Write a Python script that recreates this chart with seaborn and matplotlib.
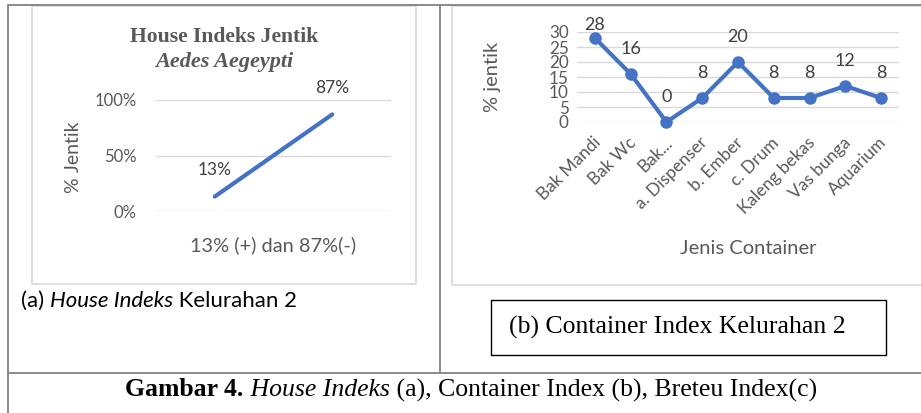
import matplotlib
matplotlib.use("Agg")
import matplotlib.pyplot as plt
import seaborn as sns
import pandas as pd
from matplotlib.patches import Rectangle
from matplotlib.lines import Line2D
from matplotlib.ticker import PercentFormatter
import matplotlib.transforms as mtrans

# ---- data ----
house_cats = ["(+)", "(-)"]
house_vals = [0.13, 0.87]
house_labels = ["13%", "87%"]

container_cats = ["Bak Mandi", "Bak Wc", "Bak...", "a. Dispenser", "b. Ember",
                  "c. Drum", "Kaleng bekas", "Vas bunga", "Aquarium"]
container_vals = [28, 16, 0, 8, 20, 8, 8, 12, 8]
container_yticks = [0, 5, 10, 15, 20, 25, 30]
house_yticks = [0.0, 0.5, 1.0]

sns.set_theme(style="white")
plt.rcParams["font.family"] = ["Lato", "DejaVu Sans"]

W, H = 921, 413
fig = plt.figure(figsize=(W / 100, H / 100), dpi=100)
fig.patch.set_facecolor("white")


def fx(x):
    return x / W


def fy(y):
    return 1 - y / H


def ax_rect(x0, y0, x1, y1):
    return [fx(x0), fy(y1), fx(x1) - fx(x0), fy(y0) - fy(y1)]


GRAY_TXT = "#595959"
LINE_BLUE = "#4472C4"
GRID = "#d9d9d9"
TABLE = "#8a8a8a"

# ---- table frame ----
for (x0, y0, x1, y1) in [(8, 5, 921, 5), (8, 5, 8, 413), (440, 5, 440, 373), (8, 373, 921, 373)]:
    fig.add_artist(Line2D([fx(x0), fx(x1)], [fy(y0), fy(y1)], color=TABLE, lw=1.4,
                          transform=fig.transFigure))

# chart areas
fig.add_artist(Rectangle((fx(32), fy(284)), fx(416) - fx(32), fy(6) - fy(284),
                         transform=fig.transFigure, fill=False, edgecolor=GRID, lw=1.2))
fig.add_artist(Rectangle((fx(452), fy(285)), fx(930) - fx(452), fy(6) - fy(285),
                         transform=fig.transFigure, fill=False, edgecolor=GRID, lw=1.2))

# ---- left chart ----
axL = fig.add_axes(ax_rect(156, 100, 391, 211))
dfL = pd.DataFrame({"cat": house_cats, "val": house_vals})
sns.lineplot(data=dfL, x="cat", y="val", ax=axL, color=LINE_BLUE, lw=3, sort=False)
for ln in axL.lines:
    ln.set_clip_on(False)
axL.set_xlim(-0.5, 1.5)
axL.set_ylim(0, 1.0)
axL.set_yticks(house_yticks)
axL.yaxis.set_major_formatter(PercentFormatter(1.0, decimals=0))
axL.grid(axis="y", color=GRID, lw=1)
axL.set_axisbelow(True)
for s in axL.spines.values():
    s.set_visible(False)
axL.tick_params(axis="y", length=0, pad=14, labelsize=12, labelcolor=GRAY_TXT)
axL.tick_params(axis="x", length=0, labelbottom=False)
axL.set_xlabel("13% (+) dan 87%(-)", fontsize=14.4, color=GRAY_TXT)
axL.xaxis.set_label_coords(0.5, -0.306)
axL.xaxis.label.set_va("center")
axL.set_ylabel("% Jentik", fontsize=14, color=GRAY_TXT)
axL.yaxis.set_label_coords(-0.353, 0.486)
axL.yaxis.label.set_va("center")
for i, (v, lab) in enumerate(zip(house_vals, house_labels)):
    axL.annotate(lab, (i, v), xytext=(0, 19), textcoords="offset points",
                 ha="center", va="center", fontsize=12.5, color="#404040")

fig.text(fx(224), fy(37), "House Indeks Jentik", ha="center", va="center",
         family="Liberation Serif", weight="bold", fontsize=15.6, color=GRAY_TXT)
fig.text(fx(224), fy(62), "Aedes Aegeypti", ha="center", va="center",
         family="Liberation Serif", weight="bold", style="italic", fontsize=16, color=GRAY_TXT)

# ---- right chart ----
axR = fig.add_axes(ax_rect(577, 32, 899, 122))
dfR = pd.DataFrame({"cat": container_cats, "val": container_vals})
sns.lineplot(data=dfR, x="cat", y="val", ax=axR, color=LINE_BLUE, lw=3, sort=False,
             marker="o", markersize=9, markeredgewidth=0)
for ln in axR.lines:
    ln.set_clip_on(False)
axR.set_xlim(-0.5, len(container_cats) - 0.5)
axR.set_ylim(0, 30)
axR.set_yticks(container_yticks)
axR.grid(axis="y", color=GRID, lw=1)
axR.set_axisbelow(True)
for s in axR.spines.values():
    s.set_visible(False)
axR.tick_params(axis="y", length=0, pad=6, labelsize=12.3, labelcolor=GRAY_TXT)
axR.tick_params(axis="x", length=0, pad=13, labelsize=12.5, labelcolor=GRAY_TXT)
axR.set_xticks(range(len(container_cats)))
axR.set_xticklabels(container_cats, rotation=45, ha="right", va="center",
                    rotation_mode="anchor")
shift = mtrans.ScaledTranslation(3 / 100, 0, fig.dpi_scale_trans)
for lab in axR.get_xticklabels():
    lab.set_transform(lab.get_transform() + shift)
axR.set_xlabel("Jenis Container", fontsize=14.5, color=GRAY_TXT)
axR.xaxis.set_label_coords(0.533, -1.41)
axR.xaxis.label.set_va("center")
axR.set_ylabel("% jentik", fontsize=14.5, color=GRAY_TXT)
axR.yaxis.set_label_coords(-0.261, 0.5)
axR.yaxis.label.set_va("center")
for i, v in enumerate(container_vals):
    off = 9 if v >= 25 else 18
    axR.annotate(str(v), (i, v), xytext=(0, off), textcoords="offset points",
                 ha="center", va="center", fontsize=13, color="#404040")

# ---- captions ----
renderer = fig.canvas.get_renderer()


def rich(parts, x, y, ha="left"):
    texts = []
    cur = x
    for txt, kw in parts:
        t = fig.text(cur, y, txt, ha="left", va="center", **kw)
        bb = t.get_window_extent(renderer)
        cur = bb.x1 / W
        texts.append(t)
    if ha == "center":
        total = cur - x
        dx = -total / 2
        for t in texts:
            px, py = t.get_position()
            t.set_position((px + dx, py))
    return texts


sans = dict(family=["Lato", "DejaVu Sans"], fontsize=16, color="black")
rich([("(a) ", sans), ("House Indeks", dict(sans, style="italic")),
      (" Kelurahan 2", sans)], fx(21), fy(301))

fig.add_artist(Rectangle((fx(491), fy(355)), fx(886) - fx(491), fy(300) - fy(355),
                         transform=fig.transFigure, fill=False, edgecolor="black", lw=1))
fig.text(fx(677), fy(327), "(b) Container Index Kelurahan 2", ha="center", va="center",
         family="Liberation Serif", fontsize=18.5, color="black")

serif = dict(family="Liberation Serif", fontsize=18.5, color="black")
rich([("Gambar 4.", dict(serif, weight="bold")), (" House Indeks", dict(serif, style="italic")),
      (" (a), Container Index (b), Breteu Index(c)", serif)], fx(471), fy(390), ha="center")

fig.savefig("out.png", dpi=100)
